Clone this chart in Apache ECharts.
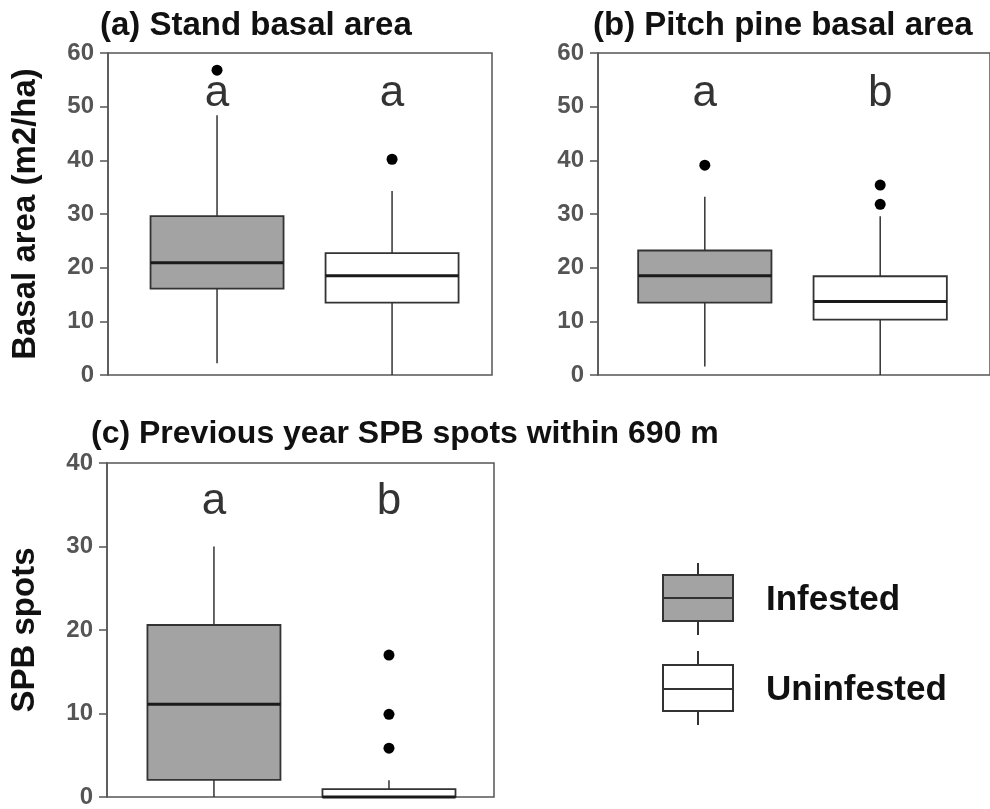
<!DOCTYPE html>
<html>
<head>
<meta charset="utf-8">
<script src="https://cdn.jsdelivr.net/npm/echarts@6/dist/echarts.min.js"></script>
<style>
html,body{margin:0;padding:0;background:#fff;}
#main{width:990px;height:809px;}
</style>
</head>
<body>
<div id="main"></div>
<script>
// ---------- data ----------
const groups = ['Infested', 'Uninfested'];
// [x position (group index), lower whisker, Q1, median, Q3, upper whisker]
const standInfested   = [1, 2.2, 16.1, 20.9, 29.6, 48.4];
const standUninfested = [2, 0.0, 13.5, 18.5, 22.7, 34.3];
const standOutliers   = [[1, 56.8], [2, 40.2]];
const standLetters    = ['a', 'a'];

const pineInfested    = [1, 1.6, 13.5, 18.5, 23.2, 33.2];
const pineUninfested  = [2, 0.0, 10.3, 13.7, 18.4, 29.6];
const pineOutliers    = [[1, 39.1], [2, 35.4], [2, 31.8]];
const pineLetters     = ['a', 'b'];

const spotsInfested   = [1, 0.0, 2.05, 11.1, 20.6, 30.0];
const spotsUninfested = [2, 0.0, 0.0, 0.0, 0.95, 2.0];
const spotsOutliers   = [[2, 17.0], [2, 9.9], [2, 5.85]];
const spotsLetters    = ['a', 'b'];

const basalTicks = [0, 10, 20, 30, 40, 50, 60];
const spotsTicks = [0, 10, 20, 30, 40];

const titles = ['(a) Stand basal area', '(b) Pitch pine basal area', '(c) Previous year SPB spots within 690 m'];
const yNames = ['Basal area (m2/ha)', 'SPB spots'];

// ---------- styles ----------
const FONT = '"Liberation Sans", Arial, sans-serif';
const INF_FILL = '#a3a3a3';
const UNINF_FILL = '#ffffff';
const EDGE = '#333333';
const FRAME = '#555555';
const BOX_W = 0.76;

function renderBox(params, api) {
  const x = api.value(0);
  const lo = api.coord([x, api.value(1)]);
  const q1 = api.coord([x, api.value(2)]);
  const md = api.coord([x, api.value(3)]);
  const q3 = api.coord([x, api.value(4)]);
  const hi = api.coord([x, api.value(5)]);
  const w = api.size([BOX_W, 0])[0];
  const fill = api.visual('color');
  const cx = md[0];
  return {
    type: 'group',
    children: [
      {type: 'line', shape: {x1: cx, y1: lo[1], x2: cx, y2: q1[1]}, style: {stroke: EDGE, lineWidth: 1.5}},
      {type: 'line', shape: {x1: cx, y1: q3[1], x2: cx, y2: hi[1]}, style: {stroke: EDGE, lineWidth: 1.5}},
      {type: 'rect', shape: {x: cx - w / 2, y: q3[1], width: w, height: q1[1] - q3[1]},
        style: {fill: fill, stroke: EDGE, lineWidth: 1.8}},
      {type: 'line', shape: {x1: cx - w / 2, y1: md[1], x2: cx + w / 2, y2: md[1]},
        style: {stroke: '#1a1a1a', lineWidth: 3}}
    ]
  };
}

const grids = [
  {left: 108, top: 53, width: 384, height: 322},
  {left: 598, top: 53, width: 400, height: 322},
  {left: 107, top: 463, width: 387, height: 337}
];
const xRanges = [[0.377, 2.571], [0.391, 2.626], [0.389, 2.6]];
const yRanges = [[basalTicks[0], basalTicks[basalTicks.length - 1]],
                 [basalTicks[0], basalTicks[basalTicks.length - 1]],
                 [spotsTicks[0], spotsTicks[spotsTicks.length - 1]]];
const letterY = [52.3, 52.3, 35.4];

const panelData = [
  {inf: standInfested, un: standUninfested, out: standOutliers, letters: standLetters},
  {inf: pineInfested, un: pineUninfested, out: pineOutliers, letters: pineLetters},
  {inf: spotsInfested, un: spotsUninfested, out: spotsOutliers, letters: spotsLetters}
];

const series = [];
panelData.forEach(function (p, i) {
  series.push({
    name: groups[0], type: 'custom', xAxisIndex: i, yAxisIndex: i,
    renderItem: renderBox, itemStyle: {color: INF_FILL},
    encode: {x: 0, y: [1, 2, 3, 4, 5]},
    data: [p.inf], silent: true, z: 2
  });
  series.push({
    name: groups[1], type: 'custom', xAxisIndex: i, yAxisIndex: i,
    renderItem: renderBox, itemStyle: {color: UNINF_FILL},
    encode: {x: 0, y: [1, 2, 3, 4, 5]},
    data: [p.un], silent: true, z: 2
  });
  series.push({
    type: 'scatter', xAxisIndex: i, yAxisIndex: i,
    symbol: 'circle', symbolSize: 11,
    itemStyle: {color: '#000', opacity: 1},
    data: p.out, silent: true, z: 3
  });
  series.push({
    type: 'scatter', xAxisIndex: i, yAxisIndex: i,
    symbolSize: 0,
    itemStyle: {color: '#000'},
    label: {
      show: true, position: 'inside',
      formatter: function (d) { return d.data[2]; },
      fontFamily: FONT, fontSize: 44, color: '#000',
      textBorderWidth: 0, textBorderColor: 'transparent'
    },
    data: p.letters.map(function (t, k) { return [k + 1, letterY[i], t]; }),
    silent: true, z: 3
  });
});

const titleSizes = [33, 33, 32];
const option = {
  backgroundColor: '#ffffff',
  animation: false,
  title: [
    {text: titles[0], left: 95, top: 4},
    {text: titles[1], left: 588, top: 4},
    {text: titles[2], left: 86, top: 413}
  ].map(function (t, k) {
    t.textStyle = {fontFamily: FONT, fontWeight: 'bold', fontSize: titleSizes[k], color: '#111'};
    return t;
  }),
  grid: grids.map(function (g) {
    return Object.assign({show: true, borderColor: FRAME, borderWidth: 1.5, backgroundColor: 'transparent', containLabel: false}, g);
  }),
  xAxis: xRanges.map(function (r, i) {
    return {type: 'value', gridIndex: i, min: r[0], max: r[1], show: false};
  }),
  yAxis: yRanges.map(function (r, i) {
    return {
      type: 'value', gridIndex: i, min: r[0], max: r[1], interval: 10,
      name: i === 0 ? yNames[0] : (i === 2 ? yNames[1] : ''),
      nameLocation: 'middle', nameRotate: 90, nameGap: 66,
      nameTextStyle: {fontFamily: FONT, fontWeight: 'bold', fontSize: 33, color: '#111'},
      axisLine: {show: true, lineStyle: {color: FRAME, width: 1.5}},
      axisTick: {show: true, length: 8, lineStyle: {color: FRAME, width: 1.5}},
      axisLabel: {fontFamily: FONT, fontWeight: 'bold', fontSize: 24, color: '#555', margin: 14, padding: [6, 0, 0, 0]},
      splitLine: {show: false}
    };
  }),
  graphic: [
    // legend: Infested
    {type: 'line', shape: {x1: 698, y1: 563, x2: 698, y2: 635}, style: {stroke: EDGE, lineWidth: 2}},
    {type: 'rect', shape: {x: 663, y: 575, width: 70, height: 46}, style: {fill: INF_FILL, stroke: EDGE, lineWidth: 2}},
    {type: 'line', shape: {x1: 663, y1: 598, x2: 733, y2: 598}, style: {stroke: EDGE, lineWidth: 2}},
    {type: 'text', left: 766, top: 583, style: {text: groups[0], fontFamily: FONT, fontWeight: 'bold', fontSize: 35, fill: '#111'}},
    // legend: Uninfested
    {type: 'line', shape: {x1: 698, y1: 651, x2: 698, y2: 725}, style: {stroke: EDGE, lineWidth: 2}},
    {type: 'rect', shape: {x: 663, y: 665, width: 70, height: 46}, style: {fill: UNINF_FILL, stroke: EDGE, lineWidth: 2}},
    {type: 'line', shape: {x1: 663, y1: 689, x2: 733, y2: 689}, style: {stroke: EDGE, lineWidth: 2}},
    {type: 'text', left: 766, top: 673, style: {text: groups[1], fontFamily: FONT, fontWeight: 'bold', fontSize: 35, fill: '#111'}}
  ],
  series: series
};

const chart = echarts.init(document.getElementById('main'), null, {renderer: 'canvas'});
chart.setOption(option);
</script>
</body>
</html>
